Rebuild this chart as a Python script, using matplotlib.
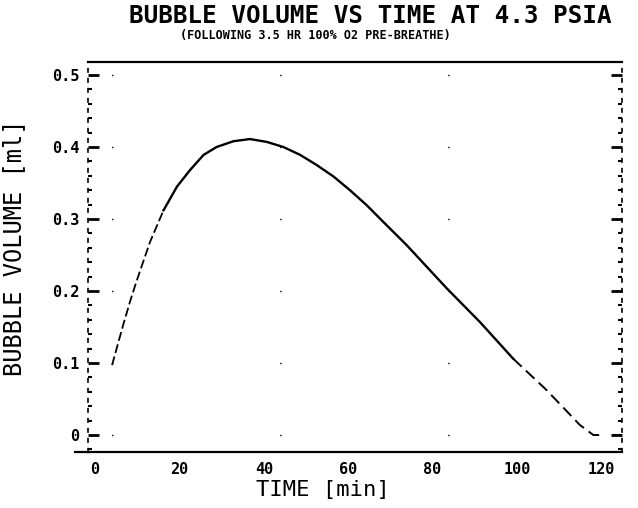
import numpy as np
import matplotlib.pyplot as plt
from matplotlib.ticker import MultipleLocator, FuncFormatter

plt.rcParams.update({
    "font.family": "DejaVu Sans Mono",
    "font.weight": "bold",
    "axes.linewidth": 1.6,
})

# bubble growth / resolution after 3.5 hr pre-breathe, 4.3 psia
time_min = [4.0, 5.7, 6.6, 8.3, 9.5, 10.7, 13.0, 16.2, 19.4, 22.5, 25.7,
            28.8, 32.8, 36.7, 40.7, 44.6, 48.6, 52.5, 56.5, 60.4, 64.4,
            68.3, 73.8, 83.3, 91.2, 99.1, 107.0, 114.9, 118.1, 120.0]
volume_ml = [0.097, 0.133, 0.152, 0.186, 0.208, 0.229, 0.268, 0.312, 0.345,
             0.368, 0.389, 0.400, 0.408, 0.411, 0.407, 0.400, 0.389, 0.375,
             0.359, 0.340, 0.319, 0.296, 0.264, 0.204, 0.157, 0.106, 0.0625,
             0.014, 0.0, 0.0]

# short stray stroke after the curve reaches zero
stub_time = [122.8, 124.4]
stub_volume = [0.0, 0.0]

x_ticks = [0, 20, 40, 60, 80, 100, 120]
y_ticks = [0, 0.1, 0.2, 0.3, 0.4, 0.5]

t = np.array(time_min)
v = np.array(volume_ml)

fig = plt.figure(figsize=(6.38, 5.08), dpi=100)
ax = fig.add_axes([88 / 638, 1 - 452 / 508, (622 - 88) / 638, (452 - 62) / 508])

# early rise and late tail came out broken on the plotter
rise = t <= 16.2
mid = (t >= 16.2) & (t <= 99.1)
tail = t >= 99.1
ax.plot(t[rise], v[rise], color="black", lw=1.3, ls=(0, (5, 2)))
ax.plot(t[mid], v[mid], color="black", lw=1.7)
ax.plot(t[tail], v[tail], color="black", lw=1.4, ls=(0, (6, 3)))
ax.plot(stub_time, stub_volume, color="black", lw=1.4)

ax.set_xlim(-1.7, 124.9)
ax.set_ylim(-0.0236, 0.518)

ax.set_xticks(x_ticks)
ax.set_yticks(y_ticks)
ax.yaxis.set_minor_locator(MultipleLocator(0.02))
ax.yaxis.set_major_formatter(FuncFormatter(lambda val, pos: "0" if val == 0 else f"{val:.1f}"))

ax.tick_params(axis="x", which="both", length=0, pad=7, labelsize=11)
ax.tick_params(axis="y", which="major", direction="in", length=8, width=2,
               right=True, pad=6, labelsize=11)
ax.tick_params(axis="y", which="minor", direction="in", length=3, width=1.5,
               right=True)

ax.spines["left"].set_linestyle((0, (2, 4)))
ax.spines["right"].set_linestyle((0, (2, 4)))
ax.spines["left"].set_linewidth(1.2)
ax.spines["right"].set_linewidth(1.2)

# bottom rule runs a little past the left axis
ax.plot([-4.8, -1.7], [-0.0236, -0.0236], color="black", lw=1.6, clip_on=False)

# sparse dotted grid at the major volume levels
ax.grid(True, axis="y", color="black", lw=1.0, ls=(104, (1, 120)))

ax.set_xlabel("TIME [min]", fontsize=16)
ax.set_ylabel("BUBBLE VOLUME [ml]", fontsize=17)
ax.xaxis.set_label_coords(0.44, -0.072)
ax.yaxis.set_label_coords(-0.116, 0.523)

fig.text(0.58, 0.968, "BUBBLE VOLUME VS TIME AT 4.3 PSIA",
         ha="center", va="center", fontsize=17.5)
fig.text(0.494, 0.930, "(FOLLOWING 3.5 HR 100% O2 PRE-BREATHE)",
         ha="center", va="center", fontsize=8.5)

fig.savefig("out.png", dpi=100)
